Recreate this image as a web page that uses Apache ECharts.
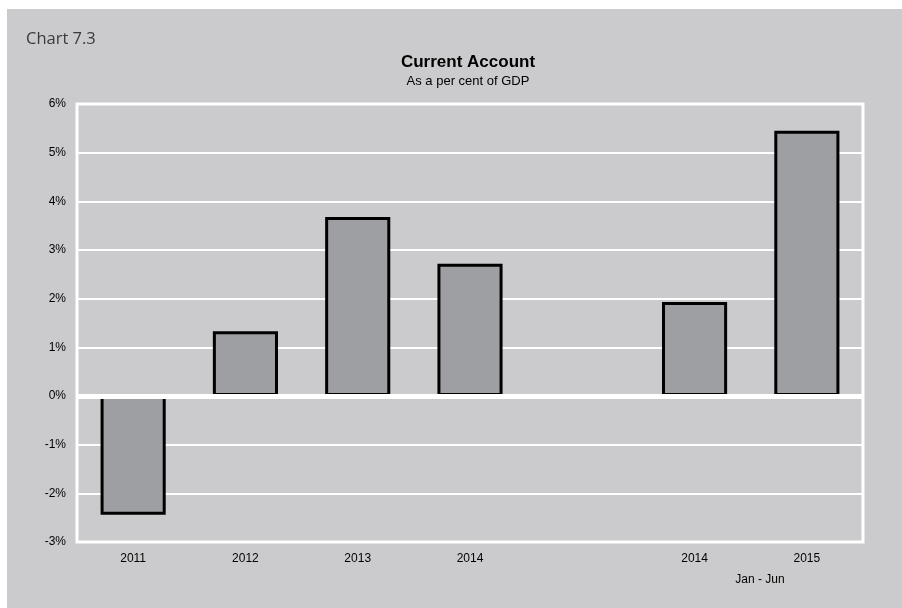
<!DOCTYPE html>
<html>
<head>
<meta charset="utf-8">
<script src="https://cdn.jsdelivr.net/npm/echarts@6/dist/echarts.min.js"></script>
<style>
html,body{margin:0;padding:0;background:#ffffff;}
#bg{position:absolute;left:7px;top:9px;width:895px;height:599px;background:#cbcbcd;}
#chart{position:absolute;left:0;top:0;width:902px;height:608px;}
</style>
</head>
<body>
<div id="bg"></div>
<div id="chart"></div>
<script>
var categories = ['2011', '2012', '2013', '2014', '', '2014', '2015'];
var values = [-2.44, 1.33, 3.68, 2.72, null, 1.93, 5.45];
var yTicks = [-3, -2, -1, 0, 1, 2, 3, 4, 5, 6];

var chart = echarts.init(document.getElementById('chart'), null, {renderer: 'canvas'});
var font = '"Liberation Sans", Arial, sans-serif';
chart.setOption({
  backgroundColor: 'transparent',
  animation: false,
  title: [
    {text: 'Chart 7.3', left: 21, top: 26, textStyle: {fontFamily: '"Open Sans", Lato, sans-serif', fontWeight: 'normal', fontSize: 16.5, color: '#3a3a3a'}},
    {text: 'Current Account', left: 463, textAlign: 'center', top: 49, textStyle: {fontFamily: font, fontWeight: 'bold', fontSize: 17, color: '#000'}},
    {text: 'As a per cent of GDP', left: 463, textAlign: 'center', top: 70, textStyle: {fontFamily: font, fontWeight: 'normal', fontSize: 13, color: '#000'}},
    {text: 'Jan - Jun', left: 755, textAlign: 'center', top: 569, textStyle: {fontFamily: font, fontWeight: 'normal', fontSize: 12, color: '#000'}}
  ],
  grid: {left: 77, right: 39, top: 104, bottom: 66, show: true, borderColor: '#ffffff', borderWidth: 3, backgroundColor: 'transparent', containLabel: false},
  xAxis: {
    type: 'category',
    data: categories,
    axisLine: {show: false},
    axisTick: {show: false},
    axisLabel: {fontFamily: font, fontSize: 12, color: '#000', margin: 11},
    splitLine: {show: false}
  },
  yAxis: {
    type: 'value',
    min: yTicks[0],
    max: yTicks[yTicks.length - 1],
    interval: 1,
    axisLine: {show: false},
    axisTick: {show: false},
    axisLabel: {fontFamily: font, fontSize: 12, color: '#000', margin: 11, formatter: function (v) { return v + '%'; }},
    splitLine: {show: true, lineStyle: {color: '#ffffff', width: 2}}
  },
  series: [{
    type: 'bar',
    data: values,
    barWidth: '58%',
    itemStyle: {color: '#9d9fa3', borderColor: '#000000', borderWidth: 3},
    markLine: {
      silent: true,
      symbol: 'none',
      z: 10,
      label: {show: false},
      lineStyle: {color: '#ffffff', width: 5, type: 'solid'},
      data: [{yAxis: 0}]
    },
    z: 2
  }]
});
</script>
</body>
</html>
